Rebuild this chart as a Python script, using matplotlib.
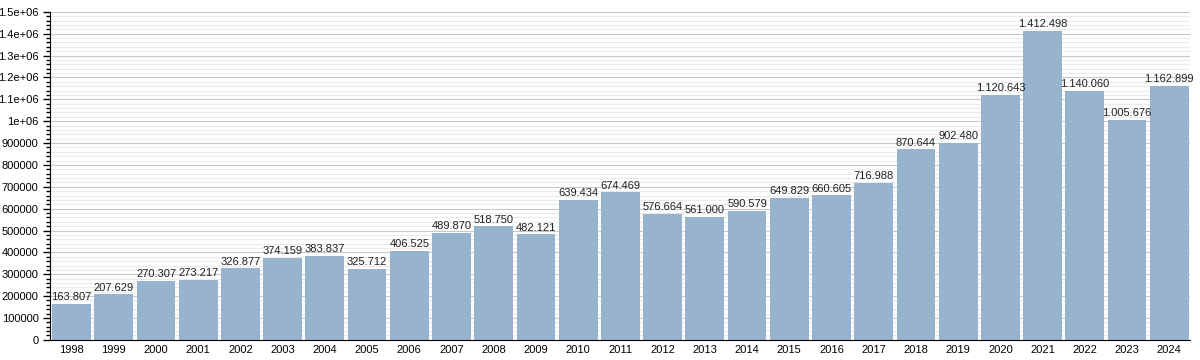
import matplotlib
matplotlib.use("Agg")
import matplotlib.pyplot as plt
from matplotlib.ticker import MultipleLocator, FuncFormatter

years = [str(y) for y in range(1998, 2025)]
values = [163807, 207629, 270307, 273217, 326877, 374159, 383837, 325712,
          406525, 489870, 518750, 482121, 639434, 674469, 576664, 561000,
          590579, 649829, 660605, 716988, 870644, 902480, 1120643, 1412498,
          1140060, 1005676, 1162899]

plt.rcParams["font.family"] = ["Liberation Sans", "DejaVu Sans"]

fig = plt.figure(figsize=(12, 3.6), dpi=100)
ax = fig.add_axes([0.042, 0.056, 0.95, 0.911])

x = range(len(years))
ax.bar(x, values, width=0.92, color="#98b3cd", zorder=2)

for i, v in enumerate(values):
    ax.text(i, v + 8000, f"{v:,}".replace(",", "."), ha="center", va="bottom",
            fontsize=8, color="#222222", zorder=3)

def fmt(v, pos):
    if v >= 1e6:
        s = f"{v:.1e}"
        m, e = s.split("e")
        m = m.rstrip("0").rstrip(".")
        return f"{m}e+{int(e):02d}"
    return f"{int(v)}"

ax.set_xlim(-0.5, len(years) - 0.5)
ax.set_ylim(0, 1.5e6)
ax.yaxis.set_major_locator(MultipleLocator(100000))
ax.yaxis.set_minor_locator(MultipleLocator(20000))
ax.yaxis.set_major_formatter(FuncFormatter(fmt))
ax.set_xticks(list(x))
ax.set_xticklabels(years)
ax.tick_params(axis="x", length=0, labelsize=8, pad=4)
ax.tick_params(axis="y", which="major", length=5, labelsize=8, width=1)
ax.tick_params(axis="y", which="minor", length=3, width=1)
ax.grid(axis="y", which="major", color="#c8c8c8", linewidth=0.8, zorder=0)
ax.grid(axis="y", which="minor", color="#ebebeb", linewidth=0.8, zorder=0)
ax.set_axisbelow(True)
for s in ["top", "right"]:
    ax.spines[s].set_visible(False)
ax.spines["left"].set_color("black")
ax.spines["bottom"].set_color("black")

fig.savefig("out.png", dpi=100)
